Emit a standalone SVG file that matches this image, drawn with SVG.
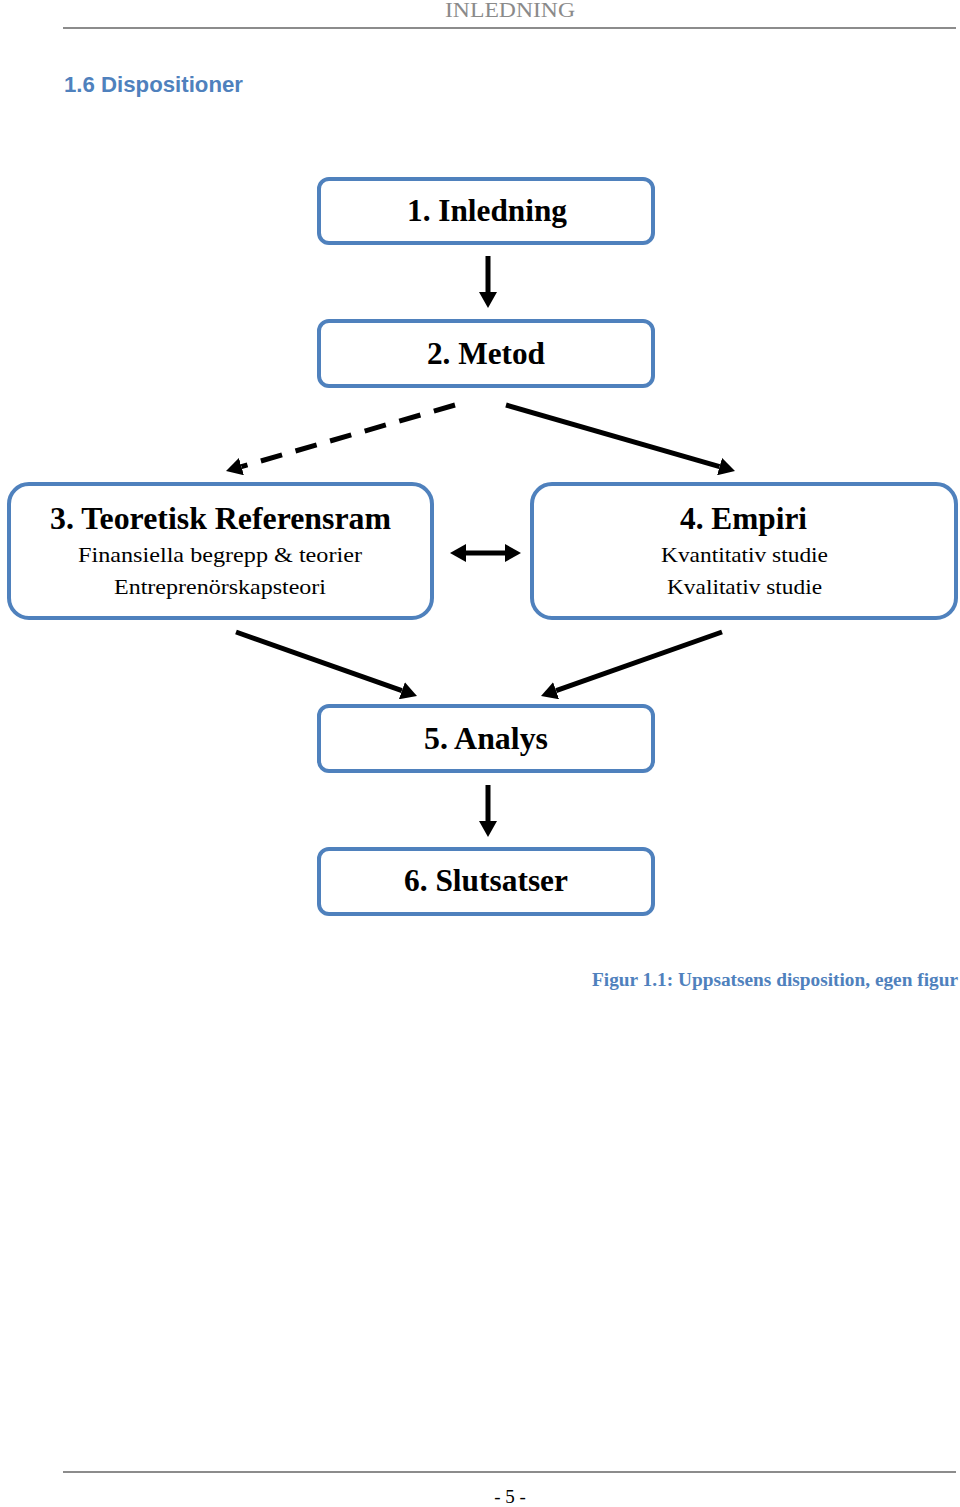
<svg xmlns="http://www.w3.org/2000/svg" width="960" height="1507" viewBox="0 0 960 1507">
  <style>
    .box { fill: #ffffff; stroke: #4F81BD; stroke-width: 4; }
    .title { font-family: "Liberation Serif", "Times New Roman", serif; font-weight: bold; font-size: 31px; fill: #000; text-anchor: middle; }
    .sub { font-family: "Liberation Serif", "Times New Roman", serif; font-size: 22px; fill: #000; text-anchor: middle; }
    .conn { stroke: #000; stroke-width: 5; fill: none; }
    .rule { stroke: #8c8c8c; stroke-width: 2; }
  </style>
  <defs>
    <marker id="ah" viewBox="0 0 16 18" refX="0" refY="9" markerWidth="16" markerHeight="18" markerUnits="userSpaceOnUse" orient="auto-start-reverse">
      <path d="M0,0 L16,9 L0,18 Z" fill="#000"/>
    </marker>
  </defs>
  <rect width="960" height="1507" fill="#ffffff"/>

  <g id="header">
    <text x="510" y="17" font-family="Liberation Serif, serif" font-size="21" fill="#8a8a8a" text-anchor="middle" textLength="130" lengthAdjust="spacingAndGlyphs">INLEDNING</text>
    <line class="rule" x1="63" y1="28" x2="956" y2="28"/>
    <text x="64" y="92" font-family="Liberation Sans, Arial, sans-serif" font-weight="bold" font-size="22" fill="#4F81BD" textLength="179" lengthAdjust="spacingAndGlyphs">1.6 Dispositioner</text>
  </g>

  <g id="connectors">
    <line class="conn" x1="488" y1="256" x2="488" y2="292" marker-end="url(#ah)"/>
    <line class="conn" x1="455" y1="405" x2="241.4" y2="466.6" stroke-dasharray="22 14" stroke-width="6" marker-end="url(#ah)"/>
    <line class="conn" x1="506" y1="405" x2="719.6" y2="466.6" marker-end="url(#ah)"/>
    <line class="conn" x1="466" y1="553" x2="505" y2="553" marker-start="url(#ah)" marker-end="url(#ah)"/>
    <line class="conn" x1="236" y1="632" x2="401.9" y2="690.7" marker-end="url(#ah)"/>
    <line class="conn" x1="722" y1="632" x2="556.1" y2="690.7" marker-end="url(#ah)"/>
    <line class="conn" x1="488" y1="785" x2="488" y2="821" marker-end="url(#ah)"/>
  </g>

  <g id="node1">
    <rect class="box" x="319" y="179" width="334" height="64" rx="10"/>
    <text class="title" x="487" y="221" textLength="160" lengthAdjust="spacingAndGlyphs">1. Inledning</text>
  </g>
  <g id="node2">
    <rect class="box" x="319" y="321" width="334" height="65" rx="10"/>
    <text class="title" x="486" y="364" textLength="118" lengthAdjust="spacingAndGlyphs">2. Metod</text>
  </g>
  <g id="node3">
    <rect class="box" x="9" y="484" width="423" height="134" rx="20"/>
    <text class="title" x="220.5" y="529" textLength="341" lengthAdjust="spacingAndGlyphs">3. Teoretisk Referensram</text>
    <text class="sub" x="220" y="562" textLength="284" lengthAdjust="spacingAndGlyphs">Finansiella begrepp &amp; teorier</text>
    <text class="sub" x="220" y="594" textLength="212" lengthAdjust="spacingAndGlyphs">Entreprenörskapsteori</text>
  </g>
  <g id="node4">
    <rect class="box" x="532" y="484" width="424" height="134" rx="20"/>
    <text class="title" x="743.5" y="529" textLength="127" lengthAdjust="spacingAndGlyphs">4. Empiri</text>
    <text class="sub" x="744.5" y="562" textLength="167" lengthAdjust="spacingAndGlyphs">Kvantitativ studie</text>
    <text class="sub" x="744.5" y="594" textLength="155" lengthAdjust="spacingAndGlyphs">Kvalitativ studie</text>
  </g>
  <g id="node5">
    <rect class="box" x="319" y="706" width="334" height="65" rx="10"/>
    <text class="title" x="486" y="749" textLength="124" lengthAdjust="spacingAndGlyphs">5. Analys</text>
  </g>
  <g id="node6">
    <rect class="box" x="319" y="849" width="334" height="65" rx="10"/>
    <text class="title" x="486" y="891" textLength="164" lengthAdjust="spacingAndGlyphs">6. Slutsatser</text>
  </g>

  <g id="caption">
    <text x="592" y="986" font-family="Liberation Serif, serif" font-weight="bold" font-size="18" fill="#4F81BD" textLength="366" lengthAdjust="spacingAndGlyphs">Figur 1.1: Uppsatsens disposition, egen figur</text>
  </g>

  <g id="footer">
    <line class="rule" x1="63" y1="1472" x2="956" y2="1472"/>
    <text x="510" y="1503" font-family="Liberation Serif, serif" font-size="19" fill="#000" text-anchor="middle">- 5 -</text>
  </g>
</svg>
